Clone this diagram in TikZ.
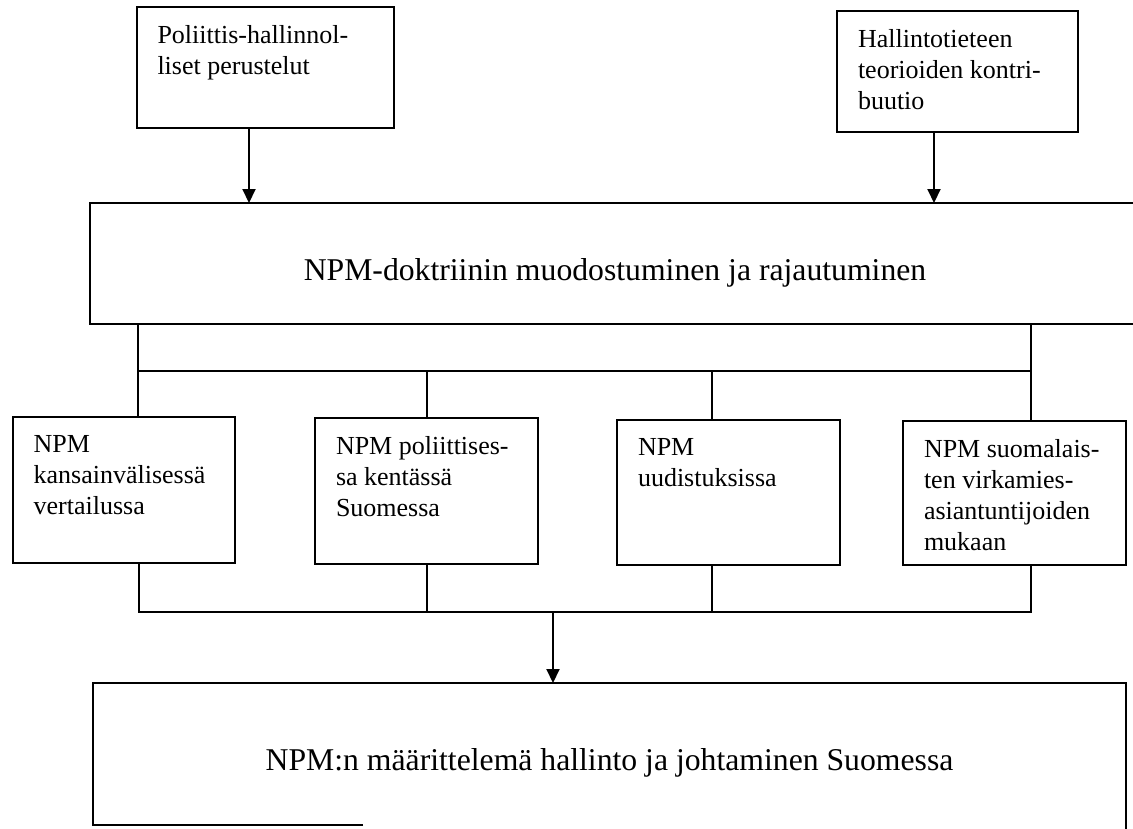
\documentclass[tikz,border=0pt]{standalone}
\usepackage{fontspec}
\setmainfont{Liberation Serif}
\usetikzlibrary{arrows.meta,calc}
\tikzset{
  box/.style={draw, line width=2pt, inner xsep=21pt, inner ysep=0pt, anchor=north west, outer sep=0pt},
  bigbox/.style={line width=2pt, inner sep=0pt, anchor=north west, outer sep=0pt},
  conn/.style={line width=2pt},
  arr/.style={line width=2pt, -{Triangle[length=14pt,width=13pt]}},
}
\newcommand{\boxtxt}[3]{\parbox[c][#2][t]{#1}{\raggedright\fontsize{26}{31}\selectfont\vspace*{18pt}#3}}
\newcommand{\bigtxt}[1]{\fontsize{31.7}{38}\selectfont\raisebox{-9pt}[\height][\depth]{#1}}
\begin{document}
\begin{tikzpicture}[x=1pt,y=-1pt]
\fill[white] (0,0) rectangle (1133,828);
\useasboundingbox (0,0) rectangle (1133,828);

% top boxes
\node[box] (A) at (136.5,7) {\boxtxt{215pt}{121pt}{Poliittis-hallinnol-\\liset perustelut}};
\node[box] (B) at (837,11) {\boxtxt{199pt}{121pt}{Hallintotieteen\\teorioiden kontri-\\buutio}};

% doctrine box
\node[bigbox, draw, minimum width=1050pt, minimum height=121pt] (N) at (90,203) {\bigtxt{NPM-doktriinin muodostuminen ja rajautuminen}};

% four middle boxes
\node[box] (c1) at (12.6,417) {\boxtxt{180pt}{146pt}{NPM\\kansainvälisessä\\vertailussa}};
\node[box] (c2) at (315,418) {\boxtxt{181pt}{146pt}{NPM poliittises-\\sa kentässä\\Suomessa}};
\node[box] (c3) at (617,420) {\boxtxt{181pt}{145pt}{NPM\\uudistuksissa}};
\node[box] (c4) at (903,421) {\boxtxt{181pt}{144pt}{NPM suomalais-\\ten virkamies-\\asiantuntijoiden\\mukaan}};

% bottom box (bottom edge partly missing)
\node[bigbox, minimum width=1033pt, minimum height=142pt] (L) at (93,683) {\bigtxt{NPM:n määrittelemä hallinto ja johtaminen Suomessa}};
\draw[conn] ([xshift=270pt]L.south west) -- (L.south west) -- (L.north west) -- (L.north east) -- ([yshift=-6pt]L.south east);

% arrows from top boxes
\coordinate (a1) at (249,140);
\coordinate (a2) at (934,140);
\draw[arr] (A.south -| a1) -- (N.north -| a1);
\draw[arr] (B.south -| a2) -- (N.north -| a2);

% upper distribution bus
\coordinate (t1) at (138,371);
\coordinate (t2) at (427,371);
\coordinate (t3) at (712,371);
\coordinate (t4) at (1031,371);
\draw[conn] (N.south -| t1) -- (c1.north -| t1);
\draw[conn] (N.south -| t4) -- (c4.north -| t4);
\draw[conn] (t1) -- (t4);
\draw[conn] (t2) -- (c2.north -| t2);
\draw[conn] (t3) -- (c3.north -| t3);

% lower collecting bus
\coordinate (u1) at (139,612);
\coordinate (u2) at (427,612);
\coordinate (u3) at (712,612);
\coordinate (u4) at (1031,612);
\coordinate (um) at (553,612);
\draw[conn] (c1.south -| u1) -- (u1) -- (u4) -- (c4.south -| u4);
\draw[conn] (c2.south -| u2) -- (u2);
\draw[conn] (c3.south -| u3) -- (u3);
\draw[arr] (um) -- (L.north -| um);
\end{tikzpicture}
\end{document}
